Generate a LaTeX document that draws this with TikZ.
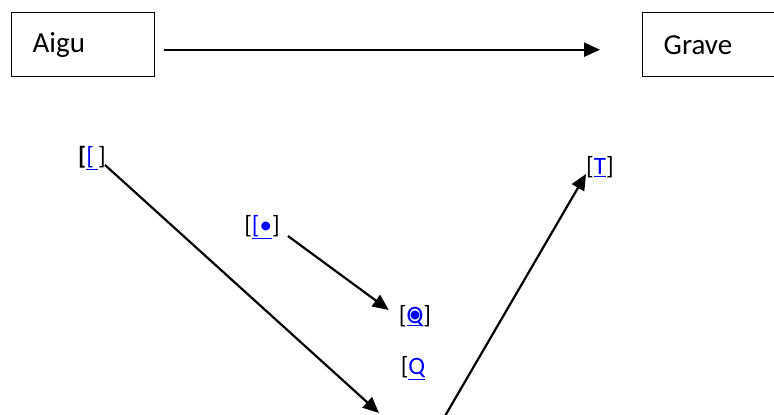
\documentclass[tikz,border=0pt]{standalone}
\usepackage{fontspec}
\setmainfont{Carlito}
\usetikzlibrary{arrows.meta}
\definecolor{linkblue}{RGB}{0,0,255}
\begin{document}
\begin{tikzpicture}[x=1pt,y=-1pt,
  box/.style={draw, line width=1.4pt, minimum width=143pt, minimum height=64pt, inner xsep=21pt, text width=101pt, align=left, font=\fontsize{29}{34}\selectfont, anchor=north west},
  lbl/.style={inner sep=0pt, font=\fontsize{25}{30}\selectfont},
  arr/.style={line width=2.2pt, -{Triangle[length=16pt,width=14pt]}}]
\clip (0,0) rectangle (774,415);
\node[box] (aigu) at (11,12) {Aigu};
\node[box] (grave) at (642,12) {Grave};
\draw[arr] ([shift={(9,5)}]aigu.east) -- ([shift={(-42,5)}]grave.west);

\node[lbl] (l1) at (92,158) {\textbf{[}\textcolor{linkblue}{\underline{[\,}}]};
\node[lbl] (l2) at (262,227) {[\textcolor{linkblue}{\underline{[•}}]};
\node[lbl] (l3) at (415,316) {[\textcolor{linkblue}{\underline{\ooalign{Q\cr\hfil\raisebox{1pt}{•}\hfil\cr}}}]};
\node[lbl] (l4) at (413,368) {[\textcolor{linkblue}{\underline{Q}}};
\node[lbl] (l5) at (600,167) {[\textcolor{linkblue}{\underline{T}}]};

\coordinate (e1) at (379,413);
\coordinate (s3) at (445,416);
\draw[arr] ([shift={(-1,7)}]l1.east) -- (e1);
\draw[arr] ([shift={(8,9)}]l2.east) -- ([shift={(-10,-6)}]l3.west);
\draw[arr] (s3) -- ([shift={(0,-4)}]l5.south west);
\end{tikzpicture}
\end{document}
